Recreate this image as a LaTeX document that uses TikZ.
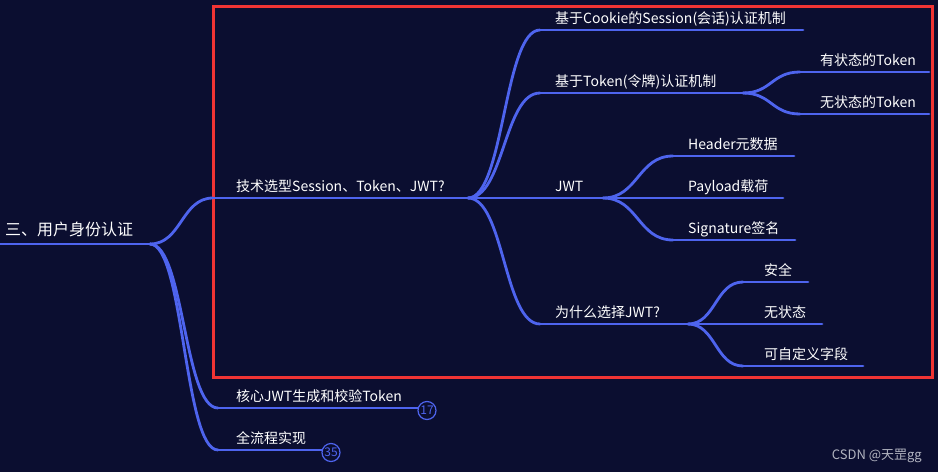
\documentclass[tikz,border=0pt]{standalone}
\usepackage{fontspec}
\setmainfont{Noto Sans CJK SC}
\usetikzlibrary{calc}
\definecolor{bgc}{RGB}{11,14,48}
\definecolor{lk}{RGB}{78,100,238}
\definecolor{frame}{RGB}{240,52,52}
\definecolor{wm}{RGB}{178,180,192}
\newcommand\mmlink[2]{\draw[link] let \p1=(#1), \p2=(#2) in (\p1) .. controls ({(\x1+\x2)/2},\y1) and ({(\x1+\x2)/2},\y2) .. (\p2);}
\begin{document}
\begin{tikzpicture}[x=1pt,y=-1pt,
  link/.style={draw=lk, line width=2.8pt, line cap=round},
  lbl/.style={text=white, font=\fontsize{14}{16}\selectfont, inner sep=0pt, anchor=base west},
  badge/.style={circle, draw=lk, line width=1.2pt, fill=bgc, text=lk, minimum size=18pt, inner sep=0pt, font=\fontsize{12}{12}\selectfont}
]
\fill[bgc] (0,0) rectangle (938,472);
\useasboundingbox (0,0) rectangle (938,472);

% frame
\draw[frame, line width=3pt] (213,6) rectangle (932,377);

% root
\coordinate (r0) at (0,244);
\coordinate (r1) at (150,244);
\node[lbl, font=\fontsize{16}{18}\selectfont] (root) at (5,235) {三、用户身份认证};
\draw[link, line cap=butt] (r0) -- (r1);

% level 1
\coordinate (c1s) at (213,198); \coordinate (c1e) at (468,198);
\node[lbl] (c1) at (236,191.5) {技术选型Session、Token、JWT?};
\coordinate (c2s) at (218,408); \coordinate (c2e) at (418,408);
\node[lbl] (c2) at (236,401.5) {核心JWT生成和校验Token};
\coordinate (c3s) at (218,450); \coordinate (c3e) at (322,450);
\node[lbl] (c3) at (236,443.5) {全流程实现};

\mmlink{r1}{c1s} \draw[link] (c1s) -- (c1e);
\mmlink{r1}{c2s} \draw[link] (c2s) -- (c2e);
\mmlink{r1}{c3s} \draw[link] (c3s) -- (c3e);
\node[badge] (b17) at (427,410.5) {17};
\node[badge] (b35) at (331,452.5) {35};

% level 2
\coordinate (g1s) at (540,30);  \coordinate (g1e) at (803,30);
\node[lbl] (g1) at (555,23.5) {基于Cookie的Session(会话)认证机制};
\coordinate (g2s) at (540,93);  \coordinate (g2e) at (743,93);
\node[lbl] (g2) at (555,86.5) {基于Token(令牌)认证机制};
\coordinate (g3s) at (540,198); \coordinate (g3e) at (603,198);
\node[lbl] (g3) at (555,191.5) {JWT};
\coordinate (g4s) at (540,324); \coordinate (g4e) at (688,324);
\node[lbl] (g4) at (555,317.5) {为什么选择JWT?};
\foreach \g in {g1,g2,g3,g4}{\mmlink{c1e}{\g s} \draw[link] (\g s) -- (\g e);}

% level 3 under g2
\coordinate (h1s) at (800,72);  \coordinate (h1e) at (929,72);
\node[lbl] (h1) at (820,65.5) {有状态的Token};
\coordinate (h2s) at (800,114); \coordinate (h2e) at (929,114);
\node[lbl] (h2) at (820,107.5) {无状态的Token};
\foreach \g in {h1,h2}{\mmlink{g2e}{\g s} \draw[link] (\g s) -- (\g e);}

% level 3 under JWT
\coordinate (j1s) at (673,156); \coordinate (j1e) at (794,156);
\node[lbl] (j1) at (688,149.5) {Header元数据};
\coordinate (j2s) at (673,198); \coordinate (j2e) at (783,198);
\node[lbl] (j2) at (688,191.5) {Payload载荷};
\coordinate (j3s) at (673,240); \coordinate (j3e) at (795,240);
\node[lbl] (j3) at (688,233.5) {Signature签名};
\foreach \g in {j1,j2,j3}{\mmlink{g3e}{\g s} \draw[link] (\g s) -- (\g e);}

% level 3 under why
\coordinate (k1s) at (743,282); \coordinate (k1e) at (808,282);
\node[lbl] (k1) at (764,275.5) {安全};
\coordinate (k2s) at (743,324); \coordinate (k2e) at (822,324);
\node[lbl] (k2) at (764,317.5) {无状态};
\coordinate (k3s) at (743,366); \coordinate (k3e) at (863,366);
\node[lbl] (k3) at (764,359.5) {可自定义字段};
\foreach \g in {k1,k2,k3}{\mmlink{g4e}{\g s} \draw[link] (\g s) -- (\g e);}

% watermark
\node[text=wm, font=\fontsize{13}{13}\selectfont, inner sep=0pt, anchor=base east] (wmk) at (922,459) {CSDN @天罡gg};
\end{tikzpicture}
\end{document}
